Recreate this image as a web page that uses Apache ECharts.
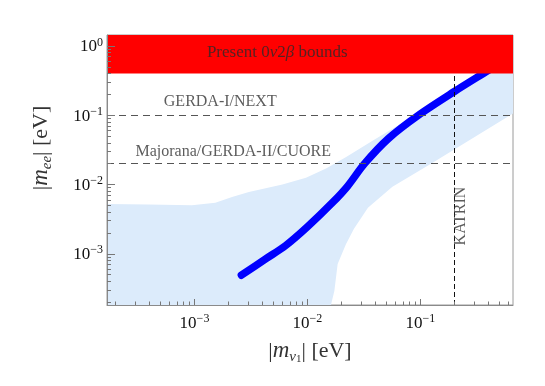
<!DOCTYPE html>
<html>
<head>
<meta charset="utf-8">
<script src="https://cdn.jsdelivr.net/npm/echarts@6/dist/echarts.min.js"></script>
<style>
  html, body { margin: 0; padding: 0; background: #fff; }
  #chart { width: 545px; height: 386px; }
</style>
</head>
<body>
<div id="chart"></div>
<script>
// |m_ee| against lightest mass |m_nu1|, all in eV
const curveX = [0.0026, 0.0043, 0.0064, 0.010, 0.0167, 0.0227, 0.032, 0.052, 0.096, 0.20, 0.36, 0.45];
const curveY = [4.9e-4, 8.5e-4, 1.31e-3, 2.45e-3, 5.5e-3, 9.5e-3, 0.020, 0.046, 0.10, 0.22, 0.40, 0.50];

// light blue allowed region: upper edge left->right, lower edge right->left
const bandUpperX = [1e-4, 3.9e-4, 9.5e-4, 1.53e-3, 2.15e-3, 3.03e-3, 6.0e-3, 9.7e-3, 0.0146, 0.022, 0.038, 0.08, 0.2, 0.45, 1.0];
const bandUpperY = [5.3e-3, 5.15e-3, 5.0e-3, 5.45e-3, 6.6e-3, 7.8e-3, 0.010, 0.0125, 0.017, 0.025, 0.043, 0.09, 0.21, 0.47, 1.0];
const bandLowerX = [1.0, 0.51, 0.124, 0.0565, 0.0343, 0.0258, 0.0219, 0.0185, 0.0173, 0.0162, 0.016, 1e-4];
const bandLowerY = [0.16, 0.082, 0.020, 0.0093, 0.0046, 0.0023, 1.37e-3, 7.1e-4, 2.9e-4, 1.86e-4, 1e-4, 1e-4];

const boundLevels = [0.1, 0.02];      // GERDA-I/NEXT, Majorana/GERDA-II/CUORE
const katrinMass = 0.2;
const presentBound = 0.4;             // red band starts here

const xRange = [1.68e-4, 0.66];
const yRange = [1.82e-4, 1.44];
const xMajor = [1e-3, 1e-2, 1e-1];
const yMajor = [1e-3, 1e-2, 1e-1, 1];

const lg = Math.log10;
const SERIF = 'Liberation Serif';

function minorTicks(lo, hi) {
  const out = [];
  for (let e = Math.floor(lg(lo)); e <= Math.ceil(lg(hi)); e++) {
    for (let m = 2; m <= 9; m++) {
      const v = m * Math.pow(10, e);
      if (v > lo && v < hi) out.push(lg(v));
    }
  }
  return out;
}

const powLabel = v => {
  const e = Math.round(v);
  return '{b|10}{s|' + (e === 0 ? '0' : '\u2212' + Math.abs(e)) + '}';
};
const powRich = {
  b: { fontFamily: SERIF, fontSize: 17, lineHeight: 19, verticalAlign: 'bottom', color: '#111' },
  s: { fontFamily: SERIF, fontSize: 12, lineHeight: 19, verticalAlign: 'top', color: '#111' }
};

const titleRich = {
  i: { fontFamily: SERIF, fontSize: 23, fontStyle: 'italic', lineHeight: 28, color: '#333' },
  sub: { fontFamily: SERIF, fontSize: 15, fontStyle: 'italic', lineHeight: 28, verticalAlign: 'bottom', color: '#333' },
  ss: { fontFamily: SERIF, fontSize: 11, lineHeight: 28, verticalAlign: 'bottom', color: '#333' }
};

const GRID_W = 545 - 107 - 32;
const GRID_H = 386 - 35 - 81;

const bandPoly = bandUpperX.map((x, i) => [lg(x), lg(bandUpperY[i])])
  .concat(bandLowerX.map((x, i) => [lg(x), lg(bandLowerY[i])]));

const notes = [
  { text: 'GERDA-I/NEXT', x: 1.69e-3, y: 0.157, rotate: 0 },
  { text: 'Majorana/GERDA-II/CUORE', x: 2.2e-3, y: 0.0295, rotate: 0 },
  { text: 'KATRIN', x: 0.228, y: 3.5e-3, rotate: 90 },
  { text: '{t|Present 0}{m|\u03BD}{t|2}{m|\u03B2}{t| bounds}', x: 5.4e-3, y: 0.80, rotate: 0 }
];

// clip polygons to the plotting rectangle
const clipTo = cs => ({ type: 'rect', shape: { x: cs.x, y: cs.y, width: cs.width, height: cs.height } });

const chart = echarts.init(document.getElementById('chart'), null, { renderer: 'canvas' });

chart.setOption({
  animation: false,
  grid: { left: 107, right: 32, top: 35, bottom: 81, show: true, borderColor: '#9a9a9a', borderWidth: 1 },
  xAxis: [
    {
      type: 'value', position: 'bottom', min: lg(xRange[0]), max: lg(xRange[1]), z: 11,
      axisLine: { show: true, onZero: false, lineStyle: { color: '#8a8a8a' } },
      axisTick: { show: true, inside: true, length: 6, customValues: xMajor.map(lg), lineStyle: { color: '#777' } },
      axisLabel: { customValues: xMajor.map(lg), formatter: powLabel, rich: powRich, margin: 8 },
      splitLine: { show: false },
      name: '|{i|m}{sub|\u03BD}{ss|1}| [eV]',
      nameLocation: 'middle', nameGap: 32,
      nameTextStyle: { fontFamily: SERIF, fontSize: 22, lineHeight: 28, color: '#333', rich: titleRich }
    },
    {
      // minor ticks, moved down onto the bottom edge
      type: 'value', position: 'top', offset: -GRID_H, min: lg(xRange[0]), max: lg(xRange[1]), z: 11,
      axisLine: { show: false },
      axisTick: { show: true, inside: false, length: 3.5, customValues: minorTicks(xRange[0], xRange[1]), lineStyle: { color: '#777' } },
      axisLabel: { show: false },
      splitLine: { show: false }
    }
  ],
  yAxis: [
    {
      type: 'value', position: 'left', min: lg(yRange[0]), max: lg(yRange[1]), z: 11,
      axisLine: { show: true, onZero: false, lineStyle: { color: '#8a8a8a' } },
      axisTick: { show: true, inside: true, length: 8, customValues: yMajor.map(lg), lineStyle: { color: '#777' } },
      axisLabel: { customValues: yMajor.map(lg), formatter: powLabel, rich: powRich, margin: 4 },
      splitLine: { show: false },
      name: '|{i|m}{sub|ee}| [eV]',
      nameLocation: 'middle', nameGap: 52,
      nameTextStyle: { fontFamily: SERIF, fontSize: 22, lineHeight: 28, color: '#333', padding: [0, 0, 0, 44], rich: titleRich }
    },
    {
      type: 'value', position: 'right', offset: -GRID_W, min: lg(yRange[0]), max: lg(yRange[1]), z: 11,
      axisLine: { show: false },
      axisTick: { show: true, inside: false, length: 4, customValues: minorTicks(yRange[0], yRange[1]), lineStyle: { color: '#777' } },
      axisLabel: { show: false },
      splitLine: { show: false }
    }
  ],
  series: [
    {
      name: 'allowed',
      type: 'custom',
      z: 1,
      silent: true,
      data: [0],
      renderItem: (params, api) => ({
        type: 'polygon',
        shape: { points: bandPoly.map(p => api.coord(p)) },
        style: { fill: '#dcebfb' },
        clipPath: clipTo(params.coordSys)
      })
    },
    {
      name: 'bounds',
      type: 'line',
      data: [],
      z: 3,
      markLine: {
        silent: true, symbol: 'none', label: { show: false },
        data: boundLevels.map(v => ({ yAxis: lg(v), lineStyle: { color: '#555', width: 1, type: [7, 5] } }))
          .concat([{ xAxis: lg(katrinMass), lineStyle: { color: '#111', width: 1, type: [5, 3] } }])
      }
    },
    {
      name: 'mee',
      type: 'line',
      z: 4,
      smooth: 0.3,
      showSymbol: false,
      lineStyle: { color: '#0000ff', width: 7.5, cap: 'round', join: 'round' },
      data: curveX.map((x, i) => [lg(x), lg(curveY[i])])
    },
    {
      name: 'present',
      type: 'custom',
      z: 10,
      silent: true,
      data: [0],
      renderItem: (params, api) => {
        const a = api.coord([lg(xRange[0]), lg(yRange[1])]);
        const b = api.coord([lg(xRange[1]), lg(presentBound)]);
        return {
          type: 'rect',
          shape: { x: a[0], y: a[1], width: b[0] - a[0], height: b[1] - a[1] },
          style: { fill: '#ff0000' }
        };
      }
    },
    {
      name: 'notes',
      type: 'scatter',
      z: 12,
      silent: true,
      symbolSize: 0,
      data: notes.map(n => ({
        value: [lg(n.x), lg(n.y)],
        name: n.text,
        label: { rotate: n.rotate }
      })),
      label: {
        show: true, position: 'inside', formatter: p => p.name,
        fontFamily: SERIF, fontSize: 16, color: '#333',
        rich: {
          t: { fontFamily: SERIF, fontSize: 17, color: '#2a2a2a' },
          m: { fontFamily: SERIF, fontSize: 17, fontStyle: 'italic', color: '#2a2a2a' }
        }
      }
    }
  ]
});
</script>
</body>
</html>
